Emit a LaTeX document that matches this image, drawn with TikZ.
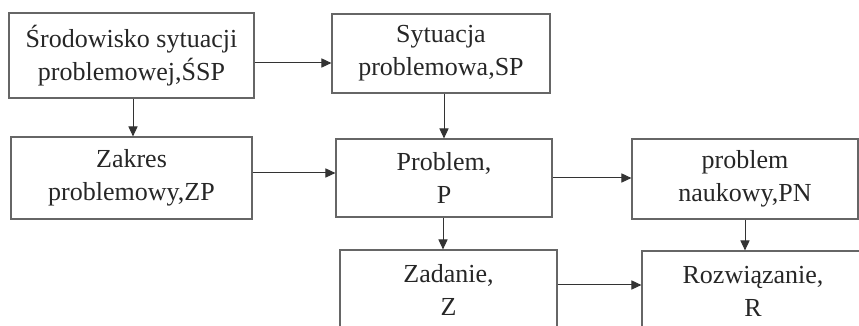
\documentclass[tikz,border=0pt]{standalone}
\usepackage{fontspec}
\setmainfont{Liberation Serif}
\usetikzlibrary{arrows.meta}
\begin{document}
\begin{tikzpicture}[x=0.5pt,y=-0.5pt,
  stepbox/.style={draw=black!60, line width=0.6pt, inner sep=0pt, align=center,
    text=black!85, font=\fontsize{13}{16.5}\selectfont},
  arr/.style={draw=black!80, line width=0.5pt, -{Triangle[length=5pt,width=4.6pt]}}]
\useasboundingbox (0,0) rectangle (859,326);
\clip (0,0) rectangle (859,326);
\node[stepbox, minimum width=122.5pt, minimum height=42.5pt] (b1) at (131.5,55.5) {Środowisko sytuacji\\problemowej,ŚSP};
\node[stepbox, minimum width=109pt, minimum height=39.5pt] (sp) at (441,53.5) {Sytuacja\\problemowa,SP};
\node[stepbox, minimum width=120.5pt, minimum height=41pt] (zp) at (131.5,178) {Zakres\\problemowy,ZP};
\node[stepbox, minimum width=108pt, minimum height=39pt] (p) at (444,178) {Problem,\\P};
\node[stepbox, minimum width=113pt, minimum height=40pt] (pn) at (745,179) {problem\\naukowy,PN};
\node[stepbox, minimum width=108.5pt, minimum height=40pt] (z) at (448.5,290) {Zadanie,\\Z};
\node[stepbox, minimum width=111pt, minimum height=40pt] (r) at (753,291) {Rozwiązanie,\\R};
\draw[arr] (b1.east|-0,63) -- (sp.west|-0,63);
\draw[arr] (b1.south-|133,0) -- (zp.north-|133,0);
\draw[arr] (sp.south-|444,0) -- (p.north-|444,0);
\draw[arr] (zp.east|-0,173) -- (p.west|-0,173);
\draw[arr] (p.east|-0,178) -- (pn.west|-0,178);
\draw[arr] (p.south-|443,0) -- (z.north-|443,0);
\draw[arr] (z.east|-0,285) -- (r.west|-0,285);
\draw[arr] (pn.south-|745,0) -- (r.north-|745,0);
\end{tikzpicture}
\end{document}
